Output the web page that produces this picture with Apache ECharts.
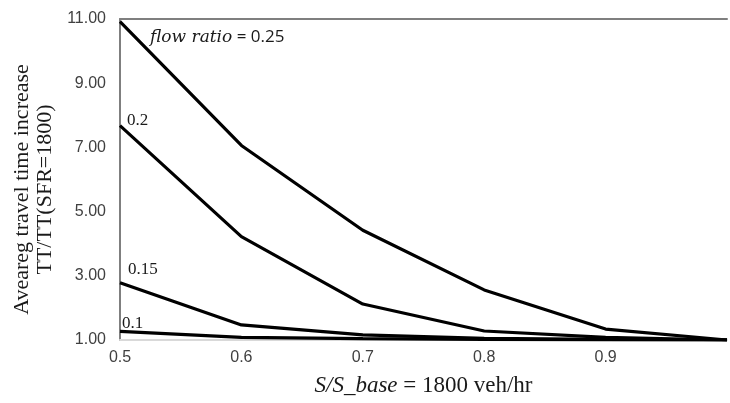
<!DOCTYPE html>
<html>
<head>
<meta charset="utf-8">
<script src="https://cdn.jsdelivr.net/npm/echarts@6/dist/echarts.min.js"></script>
<style>
  html, body { margin: 0; padding: 0; background: #ffffff; }
  #chart { width: 730px; height: 403px; }
</style>
</head>
<body>
<div id="chart"></div>
<script>
// x values: S/S_base
const xValues = [0.5, 0.6, 0.7, 0.8, 0.9, 1.0];
// series values (TT/TT(SFR=1800)) per flow ratio
const flow025 = [10.92, 7.06, 4.42, 2.56, 1.34, 1.0];
const flow020 = [7.68, 4.22, 2.12, 1.28, 1.08, 1.0];
const flow015 = [2.78, 1.47, 1.16, 1.05, 1.02, 1.0];
const flow010 = [1.27, 1.08, 1.04, 1.02, 1.0, 1.0];
const seriesNames = ['flow ratio = 0.25', '0.2', '0.15', '0.1'];
const yTickLabels = [1, 3, 5, 7, 9, 11];

const allSeries = [flow025, flow020, flow015, flow010];
const labelOffsets = [[30, 16], [7, -5], [8, -13], [2, -8]];

function pairs(vals) { return xValues.map((x, i) => [x, vals[i]]); }

const series = allSeries.map((vals, k) => ({
  name: seriesNames[k],
  type: 'line',
  data: pairs(vals),
  showSymbol: false,
  symbol: 'none',
  lineStyle: { color: '#000000', width: 3.2 },
  z: 5,
  markPoint: {
    symbol: 'circle',
    symbolSize: 0,
    silent: true,
    data: [{
      coord: [xValues[0], vals[0]],
      label: {
        show: true,
        position: 'right',
        distance: 0,
        offset: labelOffsets[k],
        formatter: k === 0 ? '{it|flow ratio}{eq| = 0.25}' : seriesNames[k],
        fontFamily: 'Liberation Serif',
        fontSize: 17,
        color: '#1a1a1a',
        rich: {
          it: { fontFamily: 'DejaVu Serif', fontStyle: 'italic', fontSize: 17, color: '#1a1a1a' },
          eq: { fontFamily: 'Open Sans', fontSize: 17, color: '#1a1a1a' }
        }
      }
    }]
  }
}));

const chart = echarts.init(document.getElementById('chart'), null, { renderer: 'canvas' });
chart.setOption({
  animation: false,
  backgroundColor: '#ffffff',
  grid: { left: 120, right: 1, top: 19, bottom: 63, containLabel: false },
  xAxis: [{
    type: 'value',
    min: 0.5,
    max: 1.0,
    interval: 0.1,
    position: 'bottom',
    axisLine: { show: true, lineStyle: { color: '#d9d9d9', width: 2 } },
    axisTick: { show: false },
    splitLine: { show: false },
    axisLabel: {
      show: true,
      margin: 10,
      fontFamily: 'Liberation Sans',
      fontSize: 16,
      color: '#404040',
      formatter: v => (Math.abs(v - 1) < 1e-9 ? '' : v.toFixed(1))
    },
    name: '{it|S/S_base}{n| = 1800 veh/hr}',
    nameLocation: 'middle',
    nameGap: 34,
    nameTextStyle: {
      rich: {
        it: { fontFamily: 'Liberation Serif', fontStyle: 'italic', fontSize: 23, color: '#1a1a1a' },
        n: { fontFamily: 'Liberation Serif', fontSize: 23, color: '#1a1a1a' }
      }
    }
  }, {
    type: 'value',
    min: 0.5,
    max: 1.0,
    interval: 0.1,
    position: 'top',
    axisLine: { show: true, lineStyle: { color: '#7f7f7f', width: 2 } },
    axisTick: { show: false },
    axisLabel: { show: false },
    splitLine: { show: false }
  }],
  yAxis: {
    type: 'value',
    min: 1,
    max: 11,
    interval: 1,
    axisLine: { show: true, lineStyle: { color: '#7f7f7f', width: 2 } },
    axisTick: { show: false },
    splitLine: { show: false },
    axisLabel: {
      margin: 14,
      fontFamily: 'Liberation Sans',
      fontSize: 16,
      color: '#404040',
      formatter: v => (yTickLabels.includes(Math.round(v)) && Math.abs(v - Math.round(v)) < 1e-9 ? v.toFixed(2) : '')
    },
    name: 'Aveareg travel time increase\nTT/TT(SFR=1800)',
    nameLocation: 'middle',
    nameGap: 60,
    nameTextStyle: {
      fontFamily: 'Liberation Serif',
      fontSize: 22,
      lineHeight: 23,
      color: '#1a1a1a',
      padding: [0, 20, 0, 0]
    }
  },
  series: series
});
</script>
</body>
</html>
